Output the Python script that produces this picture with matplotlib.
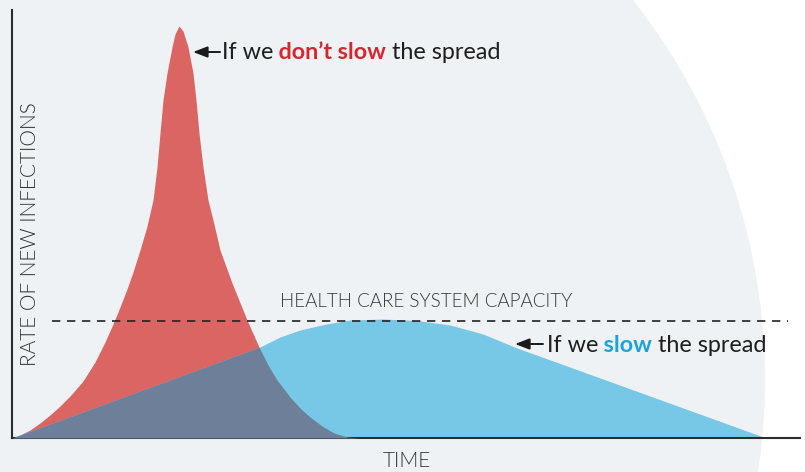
import numpy as np
import matplotlib
matplotlib.use("Agg")
import matplotlib.pyplot as plt
from matplotlib.patches import Ellipse

# ---------------- data (arbitrary time / rate units) ----------------
red_t = [0, 8, 18, 28, 38, 48, 58, 71, 83, 93, 101, 108, 115, 121, 128, 135,
         141, 145, 148, 151, 155, 160, 163, 167, 171, 176, 181, 184, 187, 191,
         196, 201, 208, 220, 235, 247, 256, 265, 278, 288, 298, 310, 322, 335, 348]
red_y = [0, 3, 8, 15, 23, 32, 42, 57, 76, 96, 114, 131, 149, 166, 188, 212,
         238, 271, 305, 338, 365, 391, 404, 412, 407, 391, 365, 338, 305, 271,
         238, 218, 188, 155, 118, 91, 73, 58, 41, 30, 21, 12, 5, 1, 0]

blue_t = [0, 248, 268, 288, 314, 338, 371, 405, 438, 471, 488, 505, 555,
          638, 721, 754]
blue_y = [0, 91, 101, 108, 114, 118, 119, 117.5, 113, 104, 97, 90, 72,
          42, 12, 0]

capacity = 117.2

red_c = "#db6563"
blue_c = "#77c8e6"
both_c = "#6d7f99"
txt_c = "#333333"

# ---------------- figure ----------------
fig = plt.figure(figsize=(8.05, 4.72), dpi=100)
fig.patch.set_facecolor("white")

# big pale disc behind the chart
bg = Ellipse((152 / 805, 92 / 472), 2 * 613 / 805, 2 * 613 / 472,
             transform=fig.transFigure, facecolor="#eff2f5", edgecolor="none", zorder=0)
fig.add_artist(bg)

ax = fig.add_axes([12 / 805, 34 / 472, 788 / 805, 428 / 472])
ax.set_facecolor("none")
ax.set_xlim(0, 788)
ax.set_ylim(0, 428)
for s in ["top", "right"]:
    ax.spines[s].set_visible(False)
for s in ["left", "bottom"]:
    ax.spines[s].set_color("#2b2b2b")
    ax.spines[s].set_linewidth(1.5)
ax.set_xticks([])
ax.set_yticks([])

# both curves on one grid so the overlap gets its own colour
t = np.linspace(0, 788, 3001)
r = np.interp(t, red_t, red_y, right=0)
b = np.interp(t, blue_t, blue_y, right=0)
ax.fill_between(t, 0, r, color=red_c, lw=0, zorder=2)
ax.fill_between(t, 0, b, color=blue_c, lw=0, zorder=2)
ax.fill_between(t, 0, np.minimum(r, b), color=both_c, lw=0, zorder=3)

# capacity line
ax.plot([40, 776], [capacity, capacity], color="#222222", lw=1.2,
        dashes=(5, 4), zorder=4)
ax.text(414, capacity + 14, "HEALTH CARE SYSTEM CAPACITY", ha="center",
        va="baseline", fontsize=13.5, family="Lato", fontweight=300, color=txt_c)

# axis titles
fig.text(30 / 805, 1 - 234 / 472, "RATE OF NEW INFECTIONS", rotation=90,
         ha="center", va="center", fontsize=15, family="Lato",
         fontweight=300, color=txt_c)
fig.text(407 / 805, 1 - 461 / 472, "TIME", ha="center", va="center",
         fontsize=15, family="Lato", fontweight=300, color=txt_c)


def label(x, y, parts, size=16.8):
    prev = None
    for txt, col, w in parts:
        kw = dict(fontsize=size, family="Lato", color=col, fontweight=w)
        if prev is None:
            prev = ax.text(x, y, txt, ha="left", va="baseline", **kw)
        else:
            prev = ax.annotate(txt, xy=(1, 0), xycoords=prev, ha="left",
                               va="bottom", **kw)


arrow = dict(arrowstyle="-|>,head_length=0.86,head_width=0.33", color="#1a1a1a",
             lw=1.4, shrinkA=0, shrinkB=0)

# not slowing
ax.annotate("", xy=(181, 386), xytext=(208, 386), arrowprops=arrow, zorder=5)
label(210, 378.7, [("If we", "#1e1e1e", "normal"),
                   (" don\u2019t slow", "#d7262f", "bold"),
                   (" the spread", "#1e1e1e", "normal")])

# slowing
ax.annotate("", xy=(503, 94), xytext=(531, 94), arrowprops=arrow, zorder=5)
label(535, 86.3, [("If we", "#1e1e1e", "normal"),
                  (" slow", "#1aa3dc", "bold"),
                  (" the spread", "#1e1e1e", "normal")])

fig.savefig("out.png", dpi=100, facecolor=fig.get_facecolor())
